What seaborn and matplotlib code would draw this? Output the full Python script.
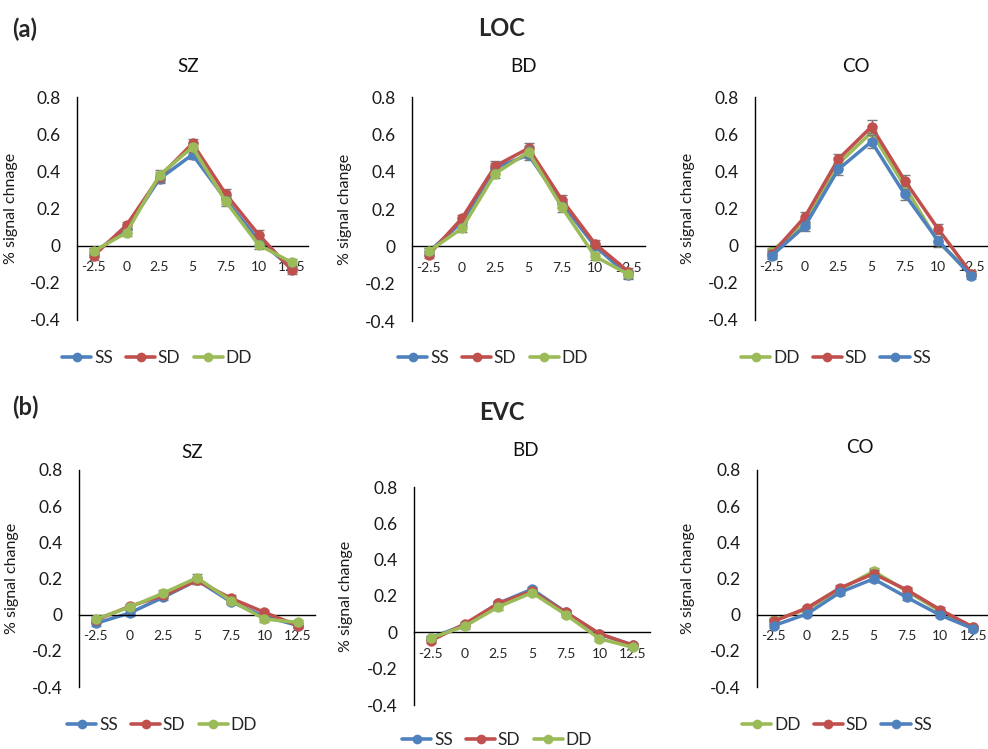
import numpy as np
import pandas as pd
import matplotlib
matplotlib.use("Agg")
import matplotlib.pyplot as plt
import seaborn as sns
from matplotlib.lines import Line2D

# ---------------- data ----------------
times = ["-2.5", "0", "2.5", "5", "7.5", "10", "12.5"]
yticks = [-0.4, -0.2, 0, 0.2, 0.4, 0.6, 0.8]
ytick_labels = ["-0.4", "-0.2", "0", "0.2", "0.4", "0.6", "0.8"]

# LOC - SZ
loc_sz_ss = [-0.04, 0.09, 0.36, 0.49, 0.25, 0.03, -0.12]
loc_sz_sd = [-0.055, 0.11, 0.37, 0.55, 0.28, 0.06, -0.13]
loc_sz_dd = [-0.03, 0.07, 0.38, 0.53, 0.24, 0.005, -0.09]
loc_sz_err = [0.02, 0.02, 0.025, 0.025, 0.025, 0.025, 0.02]
# LOC - BD
loc_bd_ss = [-0.03, 0.13, 0.42, 0.49, 0.23, 0.0, -0.155]
loc_bd_sd = [-0.045, 0.15, 0.43, 0.525, 0.25, 0.013, -0.135]
loc_bd_dd = [-0.027, 0.096, 0.39, 0.505, 0.21, -0.054, -0.15]
loc_bd_err = [0.02, 0.02, 0.025, 0.03, 0.025, 0.02, 0.02]
# LOC - CO
loc_co_dd = [-0.03, 0.12, 0.44, 0.61, 0.32, 0.02, -0.15]
loc_co_sd = [-0.045, 0.155, 0.465, 0.64, 0.35, 0.09, -0.15]
loc_co_ss = [-0.054, 0.105, 0.41, 0.56, 0.276, 0.027, -0.163]
loc_co_err = [0.02, 0.025, 0.03, 0.035, 0.03, 0.025, 0.015]
# EVC - SZ
evc_sz_ss = [-0.048, 0.009, 0.096, 0.19, 0.072, -0.01, -0.06]
evc_sz_sd = [-0.03, 0.046, 0.106, 0.189, 0.091, 0.013, -0.061]
evc_sz_dd = [-0.024, 0.041, 0.119, 0.204, 0.078, -0.024, -0.043]
evc_sz_err = [0.015, 0.015, 0.015, 0.02, 0.015, 0.015, 0.015]
# EVC - BD
evc_bd_ss = [-0.03, 0.04, 0.16, 0.237, 0.111, -0.01, -0.07]
evc_bd_sd = [-0.046, 0.046, 0.159, 0.227, 0.11, -0.007, -0.072]
evc_bd_dd = [-0.031, 0.033, 0.14, 0.218, 0.098, -0.035, -0.083]
evc_bd_err = [0.012, 0.012, 0.015, 0.015, 0.012, 0.012, 0.01]
# EVC - CO
evc_co_dd = [-0.03, 0.03, 0.14, 0.24, 0.13, 0.02, -0.07]
evc_co_sd = [-0.037, 0.037, 0.148, 0.226, 0.137, 0.028, -0.07]
evc_co_ss = [-0.061, 0.004, 0.124, 0.198, 0.096, -0.002, -0.078]
evc_co_err = [0.012, 0.012, 0.015, 0.02, 0.015, 0.012, 0.01]

colors = {"SS": "#4F81BD", "SD": "#C0504D", "DD": "#9BBB59"}

# ---------------- style ----------------
sns.set_style("white")
plt.rcParams["font.family"] = ["Lato", "DejaVu Sans"]

W, H = 988, 749
fig = plt.figure(figsize=(W / 100, H / 100), dpi=100)


def add_ax(l, r, t, b):
    return fig.add_axes([l / W, 1 - b / H, (r - l) / W, (b - t) / H])


panels = [
    # (box l,r,t,b), order, series dict, err, title(x,y,text), ylabel, ylabel_x, legend (x,y)
    ((77, 308, 97, 320), ["SS", "SD", "DD"],
     {"SS": loc_sz_ss, "SD": loc_sz_sd, "DD": loc_sz_dd}, loc_sz_err,
     (188, 66, "SZ"), "% signal chnage", 18, (157, 358)),
    ((412, 645, 97, 321), ["SS", "SD", "DD"],
     {"SS": loc_bd_ss, "SD": loc_bd_sd, "DD": loc_bd_dd}, loc_bd_err,
     (523, 66, "BD"), "% signal change", 352, (493, 358)),
    ((755, 988, 97, 320), ["DD", "SD", "SS"],
     {"DD": loc_co_dd, "SD": loc_co_sd, "SS": loc_co_ss}, loc_co_err,
     (856, 66, "CO"), "% signal change", 695, (836, 358)),
    ((79, 315, 470, 687), ["SS", "SD", "DD"],
     {"SS": evc_sz_ss, "SD": evc_sz_sd, "DD": evc_sz_dd}, evc_sz_err,
     (192, 453, "SZ"), "% signal change", 19, (162, 725)),
    ((414, 650, 487, 705), ["SS", "SD", "DD"],
     {"SS": evc_bd_ss, "SD": evc_bd_sd, "DD": evc_bd_dd}, evc_bd_err,
     (525, 450, "BD"), "% signal change", 353, (497, 740)),
    ((757, 990, 470, 687), ["DD", "SD", "SS"],
     {"DD": evc_co_dd, "SD": evc_co_sd, "SS": evc_co_ss}, evc_co_err,
     (860, 448, "CO"), "% signal change", 695, (837, 725)),
]

for box, order, series, err, title, ylabel, ylx, leg in panels:
    l, r, t, b = box
    ax = add_ax(l, r, t, b)
    rows = []
    for cond in order:
        for i, v in enumerate(series[cond]):
            rows.append({"pos": i, "val": v, "cond": cond})
    df = pd.DataFrame(rows)
    for k, cond in enumerate(order):
        sub = df[df["cond"] == cond]
        ax.errorbar(sub["pos"], sub["val"], yerr=err, fmt="none",
                    ecolor="#7a7a7a", elinewidth=1.0, capsize=3.5,
                    capthick=1.0, zorder=2 + k)
        sns.lineplot(data=sub, x="pos", y="val", color=colors[cond],
                     marker="o", markersize=7.5, markeredgewidth=0,
                     linewidth=2.5, ax=ax, legend=False, errorbar=None,
                     zorder=2.5 + k)
    ax.set_xlim(-0.5, 6.5)
    ax.set_ylim(-0.4, 0.8)
    ax.set_xticks(range(len(times)))
    ax.set_xticklabels(times, fontsize=12.5, color="#1a1a1a")
    ax.set_yticks(yticks)
    ax.set_yticklabels(ytick_labels, fontsize=12.5, color="#1a1a1a")
    ax.tick_params(axis="x", length=0, pad=11)
    ax.tick_params(axis="y", length=0, pad=12)
    ax.set_xlabel("")
    ax.set_ylabel(ylabel, fontsize=11.5, color="#1a1a1a")
    ax.yaxis.set_label_coords((ylx - l) / (r - l), 0.5)
    ax.spines["top"].set_visible(False)
    ax.spines["right"].set_visible(False)
    ax.spines["bottom"].set_position(("data", 0))
    for s in ("left", "bottom"):
        ax.spines[s].set_color("black")
        ax.spines[s].set_linewidth(1.0)
    ax.grid(False)
    ax.patch.set_alpha(0)

    fig.text(title[0] / W, 1 - title[1] / H, title[2], fontsize=13.5,
             ha="center", va="center", color="#111111")

    handles = [Line2D([0], [0], color=colors[c], lw=2.6, marker="o",
                      markersize=7, markeredgewidth=0) for c in order]
    fig.legend(handles, order, loc="center",
               bbox_to_anchor=(leg[0] / W, 1 - leg[1] / H), ncol=3,
               frameon=False, fontsize=12.5, handlelength=1.7,
               handletextpad=0.15, columnspacing=0.75, borderaxespad=0,
               borderpad=0)

fig.text(25 / W, 1 - 29 / H, "(a)", fontsize=17, fontweight="bold",
         ha="center", va="center")
fig.text(502 / W, 1 - 29 / H, "LOC", fontsize=17, fontweight="bold",
         ha="center", va="center")
fig.text(25 / W, 1 - 407 / H, "(b)", fontsize=17, fontweight="bold",
         ha="center", va="center")
fig.text(502 / W, 1 - 413 / H, "EVC", fontsize=17, fontweight="bold",
         ha="center", va="center")

fig.savefig("out.png", dpi=100)
